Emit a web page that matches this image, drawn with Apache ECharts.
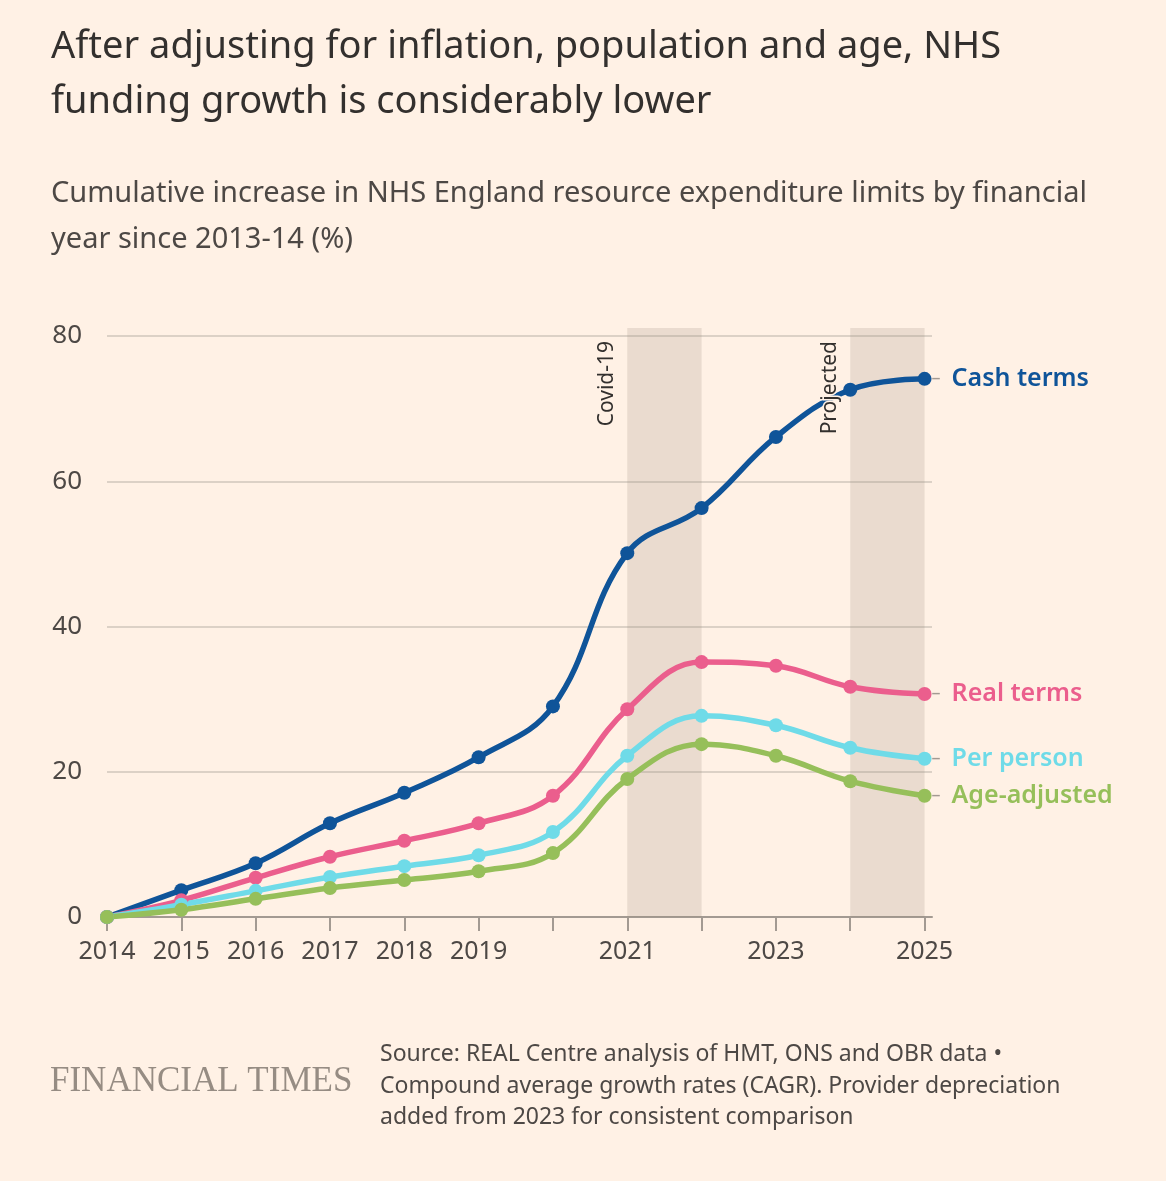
<!DOCTYPE html>
<html><head><meta charset="utf-8">
<script src="https://cdn.jsdelivr.net/npm/echarts@6/dist/echarts.min.js"></script>
<style>html,body{margin:0;padding:0;background:#fff1e5}#c{width:1166px;height:1181px}</style>
</head><body><div id="c"></div>
<script>
const years = [2014, 2015, 2016, 2017, 2018, 2019, 2020, 2021, 2022, 2023, 2024, 2025];
const cashTerms = [0, 3.7, 7.4, 12.9, 17.1, 22.0, 29.0, 50.1, 56.3, 66.1, 72.6, 74.1];
const realTerms = [0, 2.3, 5.4, 8.3, 10.5, 12.9, 16.7, 28.6, 35.1, 34.6, 31.7, 30.7];
const perPerson = [0, 1.7, 3.6, 5.5, 7.0, 8.5, 11.7, 22.2, 27.7, 26.4, 23.3, 21.8];
const ageAdjusted = [0, 1.0, 2.5, 4.0, 5.1, 6.3, 8.8, 19.0, 23.8, 22.2, 18.7, 16.7];
const xLabelYears = [2014, 2015, 2016, 2017, 2018, 2019, 2021, 2023, 2025];
const yTicks = [0, 20, 40, 60, 80];
const seriesNames = ['Cash terms', 'Real terms', 'Per person', 'Age-adjusted'];
const bandStarts = [2021, 2024];
const bandEnds = [2022, 2025];
const bandTop = 81.1;
const bandLabels = ['Covid-19', 'Projected'];

const FONT = 'Noto Sans';
const colors = ['#0f5499', '#eb5e8d', '#6fdbe8', '#96bf5a'];
const values = [cashTerms, realTerms, perPerson, ageAdjusted];
const bandData = bandStarts.map((s, i) => [s, bandEnds[i], bandTop]);

const chart = echarts.init(document.getElementById('c'), null, {renderer: 'canvas'});

const lineSeries = seriesNames.map((name, k) => ({
  name: name,
  type: 'line',
  z: 3,
  data: years.map((y, i) => [y, values[k][i]]),
  smooth: 0.4,
  symbol: 'circle',
  symbolSize: 14,
  lineStyle: {color: colors[k], width: 5.5},
  itemStyle: {color: colors[k]},
  endLabel: {
    show: true,
    distance: 7,
    formatter: '{l|–}{t|' + name + '}',
    rich: {
      l: {color: '#a39a92', fontSize: 18, fontFamily: FONT},
      t: {color: colors[k], fontSize: 25, fontFamily: FONT, fontWeight: 600, padding: [0, 0, 0, 11]}
    }
  },
  emphasis: {disabled: true}
}));

const option = {
  backgroundColor: '#fff1e5',
  animation: false,
  textStyle: {fontFamily: FONT},
  title: [
    {
      text: 'After adjusting for inflation, population and age, NHS\nfunding growth is considerably lower',
      left: 51, top: 20, padding: 0,
      textStyle: {fontFamily: FONT, fontSize: 38, fontWeight: 'normal', color: '#33302e', lineHeight: 55}
    },
    {
      text: 'Cumulative increase in NHS England resource expenditure limits by financial\nyear since 2013-14 (%)',
      left: 51, top: 171, padding: 0,
      textStyle: {fontFamily: FONT, fontSize: 29, fontWeight: 'normal', color: '#4d4845', lineHeight: 46}
    },
    {
      text: 'FINANCIAL TIMES',
      left: 50, top: 1064, padding: 0,
      textStyle: {fontFamily: 'Liberation Serif', fontSize: 35, fontWeight: 'normal', color: '#968c83'}
    },
    {
      text: 'Source: REAL Centre analysis of HMT, ONS and OBR data •\nCompound average growth rates (CAGR). Provider depreciation\nadded from 2023 for consistent comparison',
      left: 380, top: 1039, padding: 0,
      textStyle: {fontFamily: FONT, fontSize: 23, fontWeight: 'normal', color: '#4d4845', lineHeight: 31.5}
    }
  ],
  grid: {left: 107, right: 234, top: 336, bottom: 264, containLabel: false},
  xAxis: {
    type: 'value',
    min: 2014, max: 2025.1, interval: 1,
    axisLine: {show: true, lineStyle: {color: '#a39a92', width: 2}},
    axisTick: {show: true, length: 14, customValues: years, lineStyle: {color: '#a39a92', width: 2}},
    axisLabel: {customValues: xLabelYears, formatter: v => String(v), fontSize: 25, color: '#4d4845', margin: 22, fontFamily: FONT},
    splitLine: {show: false}
  },
  yAxis: {
    type: 'value',
    min: 0, max: 80, interval: 20,
    axisLine: {show: false},
    axisTick: {show: false},
    axisLabel: {fontSize: 26, color: '#4d4845', margin: 25, fontFamily: FONT, customValues: yTicks},
    splitLine: {show: true, lineStyle: {color: '#d1c6bb', width: 1.5}}
  },
  series: [
    {
      type: 'custom', z: 1, silent: true, clip: false,
      data: bandData,
      renderItem: (params, api) => {
        const p0 = api.coord([api.value(0), 0]);
        const p1 = api.coord([api.value(1), api.value(2)]);
        return {
          type: 'rect',
          shape: {x: p0[0], y: p1[1], width: p1[0] - p0[0], height: p0[1] - p1[1]},
          style: {fill: 'rgba(150,135,120,0.2)'}
        };
      }
    },
    ...lineSeries,
    {
      type: 'custom', z: 10, silent: true, clip: false,
      data: bandData,
      renderItem: (params, api) => {
        const p = api.coord([api.value(0), 80]);
        return {
          type: 'text',
          x: p[0] - 10, y: p[1] + 5,
          rotation: Math.PI / 2,
          style: {
            text: bandLabels[params.dataIndex],
            fontSize: 21, fontFamily: FONT, fill: '#33302e',
            align: 'right', verticalAlign: 'bottom',
            stroke: '#fff1e5', lineWidth: 3
          }
        };
      }
    }
  ]
};
chart.setOption(option);
</script>
</body></html>
